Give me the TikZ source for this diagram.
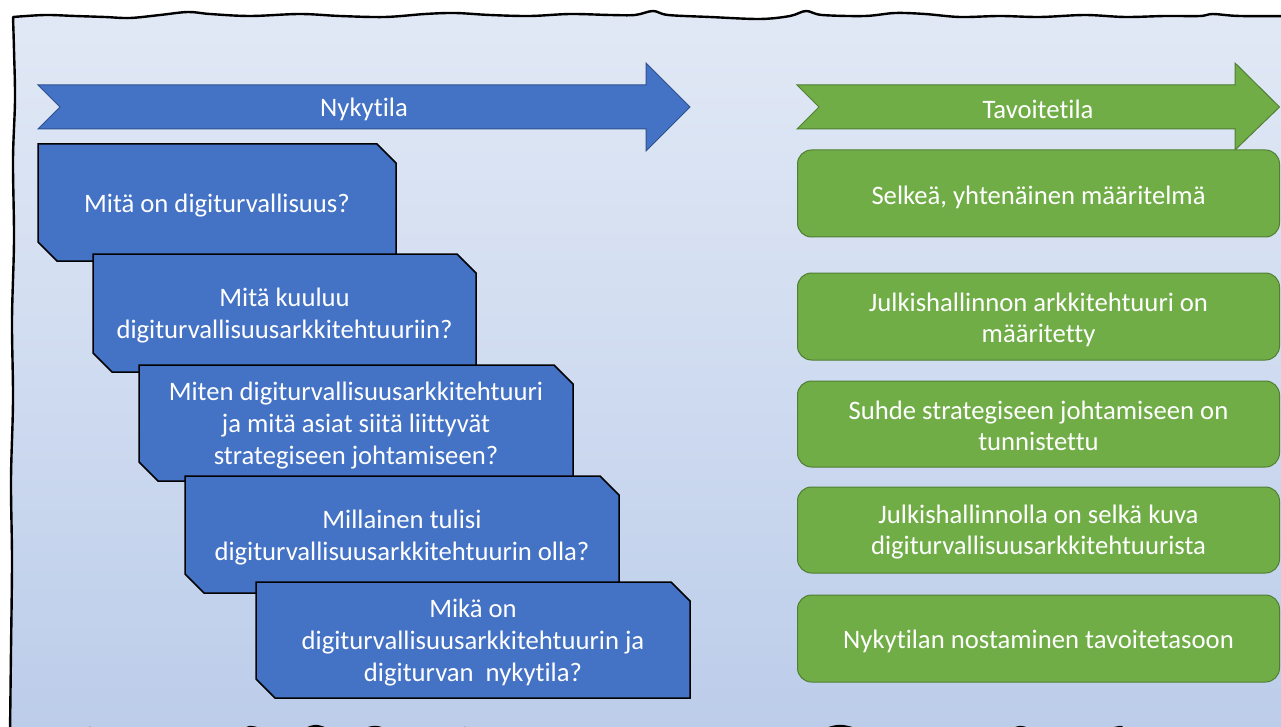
\documentclass[tikz,border=0pt]{standalone}
\usepackage{fontspec}
\setmainfont[Ligatures=NoCommon]{Carlito}
\usetikzlibrary{calc}
\definecolor{qblue}{HTML}{4472C4}
\definecolor{qbluedark}{HTML}{2F528F}
\definecolor{ggreen}{HTML}{70AD47}
\definecolor{ggreendark}{HTML}{507E32}
\definecolor{bgtop}{HTML}{F3F6FB}
\definecolor{bgmid}{HTML}{D3DEF1}
\definecolor{bgdark}{HTML}{B3C6E7}
\definecolor{bgbot}{HTML}{C3D2EC}
\pgfdeclareverticalshading{bgshade}{100bp}{color(0bp)=(bgbot); color(14bp)=(bgdark); color(55bp)=(bgmid); color(100bp)=(bgtop)}
\def\framepath{plot[smooth,tension=0.55] coordinates {(13,17) (45,15) (75,16) (105,17) (130,18) (160,15) (188,12) (210,14) (250,16) (300,14) (340,16) (385,17) (425,14) (455,13) (490,15) (530,16) (570,14) (610,15) (635,15) (653,11) (668,15) (710,17) (760,19) (790,16) (806,11) (822,15) (865,16) (895,13) (925,14) (960,17) (1000,16) (1040,17) (1085,15) (1125,17) (1165,16) (1200,16) (1213,14) (1240,16) (1300,16)} -- (1300,737) -- plot[smooth,tension=0.55] coordinates {(1300,737) (1140,734) (1120,727) (1095,734) (1040,732) (1020,727) (1000,733) (930,735) (915,729) (900,735) (870,733) (840,726) (810,733) (760,736) (725,732) (710,736) (480,734) (465,728) (445,734) (400,734) (375,727) (350,734) (335,732) (315,726) (295,733) (270,732) (250,727) (230,733) (110,734) (90,728) (70,734) (10,733)} -- plot[smooth,tension=0.55] coordinates {(10,733) (11,650) (12,560) (11,480) (13,400) (12,320) (14,240) (13,160) (15,100) (14,50) (13,17)} -- cycle}
\newcommand\snipbox[6]{%
  \draw[qshape] (#2,#3) -- ({#4-19},#3) -- (#4,{#3+19}) -- (#4,#5) -- ({#2+19},#5) -- (#2,{#5-19}) -- cycle;
  \node[qtext] (#1) at ({(#2+#4)/2},{(#3+#5)/2}) {#6};
}
\newcommand\goalbox[5]{% name, cy, h, dy, text
  \node[gbox,minimum height=#3pt] (#1) at (1038.5,#2) {};
  \node[gtext] (#1t) at ($(#1.center)+(0,#4)$) {#5};
}
\begin{document}
\begin{tikzpicture}[x=1pt,y=-1pt,
  frameline/.style={draw=black,line width=2.4pt,line join=round},
  qshape/.style={fill=qblue,draw=black,line width=1.5pt,line join=miter},
  qtext/.style={text=white,align=center,font=\fontsize{26.67}{32}\selectfont,inner sep=0pt,yshift=-3pt},
  arrowblue/.style={fill=qblue,draw=qbluedark,line width=1pt},
  arrowgreen/.style={fill=ggreen,draw=ggreendark,line width=1pt},
  arrowlabel/.style={text=white,font=\fontsize{26.67}{32}\selectfont,inner sep=0pt,yshift=-2pt},
  gbox/.style={fill=ggreen,draw=ggreendark,line width=1pt,rounded corners=14pt,minimum width=482pt,inner sep=0pt},
  gtext/.style={text=white,align=center,font=\fontsize{26.67}{31}\selectfont,inner sep=0pt}]
\useasboundingbox (0,0) rectangle (1281,727);
\begin{scope}
\clip (0,0) rectangle (1281,727);
\shade[shading=bgshade] \framepath;
\draw[frameline] \framepath;
\end{scope}
% arrows
\draw[arrowblue] (38,85) -- (646,85) -- (646,63) -- (690,107) -- (646,151) -- (646,129) -- (38,129) -- (60,107) -- cycle;
\node[arrowlabel] (nyky) at (364,107) {Nykytila};
\draw[arrowgreen] (797,85) -- (1235,85) -- (1235,63) -- (1279.5,107) -- (1235,150) -- (1235,129) -- (797,129) -- (819,107) -- cycle;
\node[arrowlabel] (tavo) at (1038,107) {Tavoitetila};
% question boxes
\snipbox{q1}{38}{144}{396}{261}{Mitä on digiturvallisuus?}
\snipbox{q2}{93}{254}{476}{372}{Mitä kuuluu\\digiturvallisuusarkkitehtuuriin?}
\snipbox{q3}{139}{365}{573}{481}{Miten digiturvallisuusarkkitehtuuri\\ja mitä asiat siitä liittyvät\\strategiseen johtamiseen?}
\snipbox{q4}{185}{476}{619}{593}{Millainen tulisi\\digiturvallisuusarkkitehtuurin olla?}
\snipbox{q5}{256}{582}{690}{698}{Mikä on\\digiturvallisuusarkkitehtuurin ja\\digiturvan\ \ nykytila?}
% goal boxes
\goalbox{g1}{193.5}{87}{4}{Selkeä, yhtenäinen määritelmä}
\goalbox{g2}{316.5}{87}{3}{Julkishallinnon arkkitehtuuri on\\määritetty}
\goalbox{g3}{424}{86}{2}{Suhde strategiseen johtamiseen on\\tunnistettu}
\goalbox{g4}{530}{86}{2}{Julkishallinnolla on selkä kuva\\digiturvallisuusarkkitehtuurista}
\goalbox{g5}{638.5}{87}{3}{Nykytilan nostaminen tavoitetasoon}
\end{tikzpicture}
\end{document}
